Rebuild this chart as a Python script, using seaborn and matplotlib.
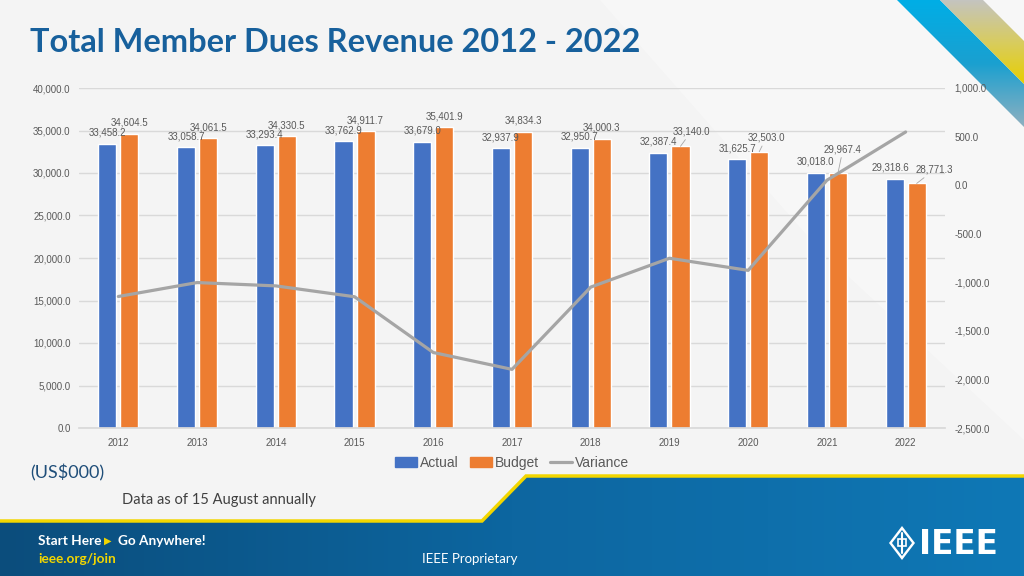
import numpy as np
import pandas as pd
import matplotlib.pyplot as plt
import seaborn as sns
from matplotlib.patches import Polygon, Rectangle, Patch
from matplotlib.lines import Line2D
from matplotlib.colors import LinearSegmentedColormap

sns.set_theme(style="white")
plt.rcParams['font.family'] = ['Liberation Sans', 'DejaVu Sans']

# --- data (US$000) ---
years = ["2012", "2013", "2014", "2015", "2016", "2017", "2018", "2019", "2020", "2021", "2022"]
actual = [33458.2, 33058.7, 33293.4, 33762.9, 33679.0, 32937.9, 32950.7, 32387.4, 31625.7, 30018.0, 29318.6]
budget = [34604.5, 34061.5, 34330.5, 34911.7, 35401.9, 34834.3, 34000.3, 33140.0, 32503.0, 29967.4, 28771.3]
variance = [-1146.3, -1002.8, -1037.1, -1148.8, -1722.9, -1896.4, -1049.6, -752.6, -877.3, 50.6, 547.3]

left_ticks = [0, 5000, 10000, 15000, 20000, 25000, 30000, 35000, 40000]
right_ticks = [-2500, -2000, -1500, -1000, -500, 0, 500, 1000]

BLUE, ORANGE, GREY = "#4472C4", "#ED7D31", "#A5A5A5"
TXT = "#595959"

df = pd.DataFrame({
    "Year": years * 2,
    "Value": actual + budget,
    "Series": ["Actual"] * len(years) + ["Budget"] * len(years),
})

fig = plt.figure(figsize=(10.24, 5.76), dpi=100)

# --- slide background (pixel coords) ---
bg = fig.add_axes([0, 0, 1, 1], zorder=0)
bg.set_xlim(0, 1024)
bg.set_ylim(576, 0)
bg.axis("off")
bg.add_patch(Rectangle((0, 0), 1024, 576, color="#f4f4f4", zorder=0))
bg.add_patch(Polygon([(600, 0), (1024, 0), (1024, 440), (820, 250)], closed=True,
                     color="white", alpha=0.3, lw=0, zorder=0))

band = Polygon([(0, 522), (482, 522), (526, 477), (1024, 477), (1024, 576), (0, 576)],
               closed=True, facecolor="none", lw=0)
bg.add_patch(band)
cmap_band = LinearSegmentedColormap.from_list("band", ["#0b4d7c", "#0d66a0", "#0f78b6"])
im = bg.imshow(np.linspace(0, 1, 256)[None, :], cmap=cmap_band, extent=(0, 1024, 576, 477),
               aspect="auto", zorder=1)
im.set_clip_path(band)
bg.plot([0, 482, 526, 1024], [521, 521, 476, 476], color="#f2d600", lw=2.5,
        solid_joinstyle="miter", zorder=2)

# top-right stripes
s1 = Polygon([(897, 0), (940, 0), (1024, 84), (1024, 127)], closed=True, facecolor="none", lw=0)
s2 = Polygon([(940, 0), (983, 0), (1024, 41), (1024, 84)], closed=True, facecolor="none", lw=0)
bg.add_patch(s1)
bg.add_patch(s2)
c1 = LinearSegmentedColormap.from_list("s1", ["#00aee6", "#1aa0d0", "#8fb0c0"])
c2 = LinearSegmentedColormap.from_list("s2", ["#c4c4c0", "#d8cc60", "#e8cf00"])
i1 = bg.imshow(np.linspace(0, 1, 256)[:, None], cmap=c1, extent=(897, 1024, 127, 0), aspect="auto", zorder=1)
i1.set_clip_path(s1)
i2 = bg.imshow(np.linspace(0, 1, 256)[:, None], cmap=c2, extent=(940, 1024, 84, 0), aspect="auto", zorder=1)
i2.set_clip_path(s2)

# title and notes
bg.text(30, 43, "Total Member Dues Revenue 2012 - 2022", color="#17609c", fontsize=23.4,
        fontweight="bold", family=["Lato", "DejaVu Sans"], va="center", ha="left")
bg.text(30, 473, "(US$000)", color="#1f4e79", fontsize=13, family=["Lato", "DejaVu Sans"],
        va="center", ha="left")
bg.text(122, 500, "Data as of 15 August annually", color="#404040", fontsize=10.5,
        family=["Lato", "DejaVu Sans"], va="center", ha="left")

# footer
bg.text(38, 541, "Start Here", color="white", fontsize=9.8, fontweight="bold",
        family=["Lato", "DejaVu Sans"], va="center", ha="left")
bg.text(104, 541, "\u25B6", color="#f2d600", fontsize=7, family=["DejaVu Sans"], va="center", ha="left")
bg.text(118, 541, "Go Anywhere!", color="white", fontsize=9.8, fontweight="bold",
        family=["Lato", "DejaVu Sans"], va="center", ha="left")
bg.text(38, 559, "ieee.org/join", color="#f2d600", fontsize=9.8, fontweight="bold",
        family=["Lato", "DejaVu Sans"], va="center", ha="left")
bg.text(422, 559, "IEEE Proprietary", color="white", fontsize=9.5,
        family=["Lato", "DejaVu Sans"], va="center", ha="left")

# IEEE logo
bg.add_patch(Polygon([(902, 526), (915, 543), (902, 560), (889, 543)], closed=True,
                     facecolor="white", lw=0, zorder=3))
bg.add_patch(Polygon([(902, 530), (912, 543), (902, 556), (892, 543)], closed=True,
                     facecolor="#0f73b0", lw=0, zorder=3))
bg.plot([902, 902], [533, 553], color="white", lw=1.5, zorder=4)
bg.add_patch(Rectangle((898, 539), 8, 7, facecolor="none", edgecolor="white", lw=1.2, zorder=4))
bg.text(919, 544, "IEEE", color="white", fontsize=23.5, fontweight="bold",
        family=["DejaVu Sans"], va="center", ha="left")

# --- chart ---
ax = fig.add_axes([79 / 1024, 1 - 428 / 576, 866 / 1024, 340 / 576], zorder=2)
ax.patch.set_alpha(0)
sns.barplot(data=df, x="Year", y="Value", hue="Series", palette=[BLUE, ORANGE],
            width=0.56, gap=0.18, ax=ax, legend=False, saturation=1)
ax.set_ylim(0, 40000)
ax.set_xlim(-0.5, len(years) - 0.5)
ax.set_yticks(left_ticks)
ax.set_yticklabels([f"{v:,.1f}" for v in left_ticks])
ax.yaxis.grid(True, color="#d9d9d9", lw=1)
ax.set_axisbelow(True)
ax.set_xlabel("")
ax.set_ylabel("")
for s in ["top", "left", "right"]:
    ax.spines[s].set_visible(False)
ax.spines["bottom"].set_color("#d9d9d9")
ax.tick_params(axis="y", labelsize=7, colors=TXT, pad=6, length=0)
ax.tick_params(axis="x", labelsize=7, colors=TXT, pad=7, length=0)

ax2 = ax.twinx()
sns.lineplot(x=np.arange(len(years)), y=variance, color=GREY, lw=2.3, ax=ax2)
ax2.set_ylim(-2500, 1000)
ax2.set_yticks(right_ticks)
ax2.set_yticklabels([f"{v:,.1f}" for v in right_ticks])
ax2.tick_params(axis="y", labelsize=7, colors=TXT, pad=7, length=0)
ax2.grid(False)
for s in ["top", "left", "right", "bottom"]:
    ax2.spines[s].set_visible(False)
ax2.set_ylabel("")

# data labels: (dx, dy) offsets in pixels
d = 0.14
act_off = [(0, 11)] * 10 + [(-4, 11)]
bud_off = [(0, 11)] * 7 + [(11, 15), (7, 14), (5, 24), (18, 14)]
leader = [False] * 7 + [True] * 4
for i in range(len(years)):
    ax.annotate(f"{actual[i]:,.1f}", xy=(i - d, actual[i]), xytext=act_off[i],
                textcoords="offset pixels", ha="center", va="center", fontsize=7, color=TXT)
    kw = {}
    if leader[i]:
        kw["arrowprops"] = dict(arrowstyle="-", color="#a6a6a6", lw=0.6, shrinkA=0, shrinkB=0)
    ax.annotate(f"{budget[i]:,.1f}", xy=(i + d, budget[i]), xytext=bud_off[i],
                textcoords="offset pixels", ha="center", va="center", fontsize=7, color=TXT, **kw)

handles = [Patch(color=BLUE), Patch(color=ORANGE), Line2D([], [], color=GREY, lw=2.3)]
fig.legend(handles, ["Actual", "Budget", "Variance"], loc="center", bbox_to_anchor=(512 / 1024, 1 - 463 / 576),
           ncol=3, frameon=False, fontsize=10, handlelength=1.6, handleheight=0.7,
           handletextpad=0.2, columnspacing=0.8, labelcolor=TXT)

fig.savefig("out.png", dpi=100)
